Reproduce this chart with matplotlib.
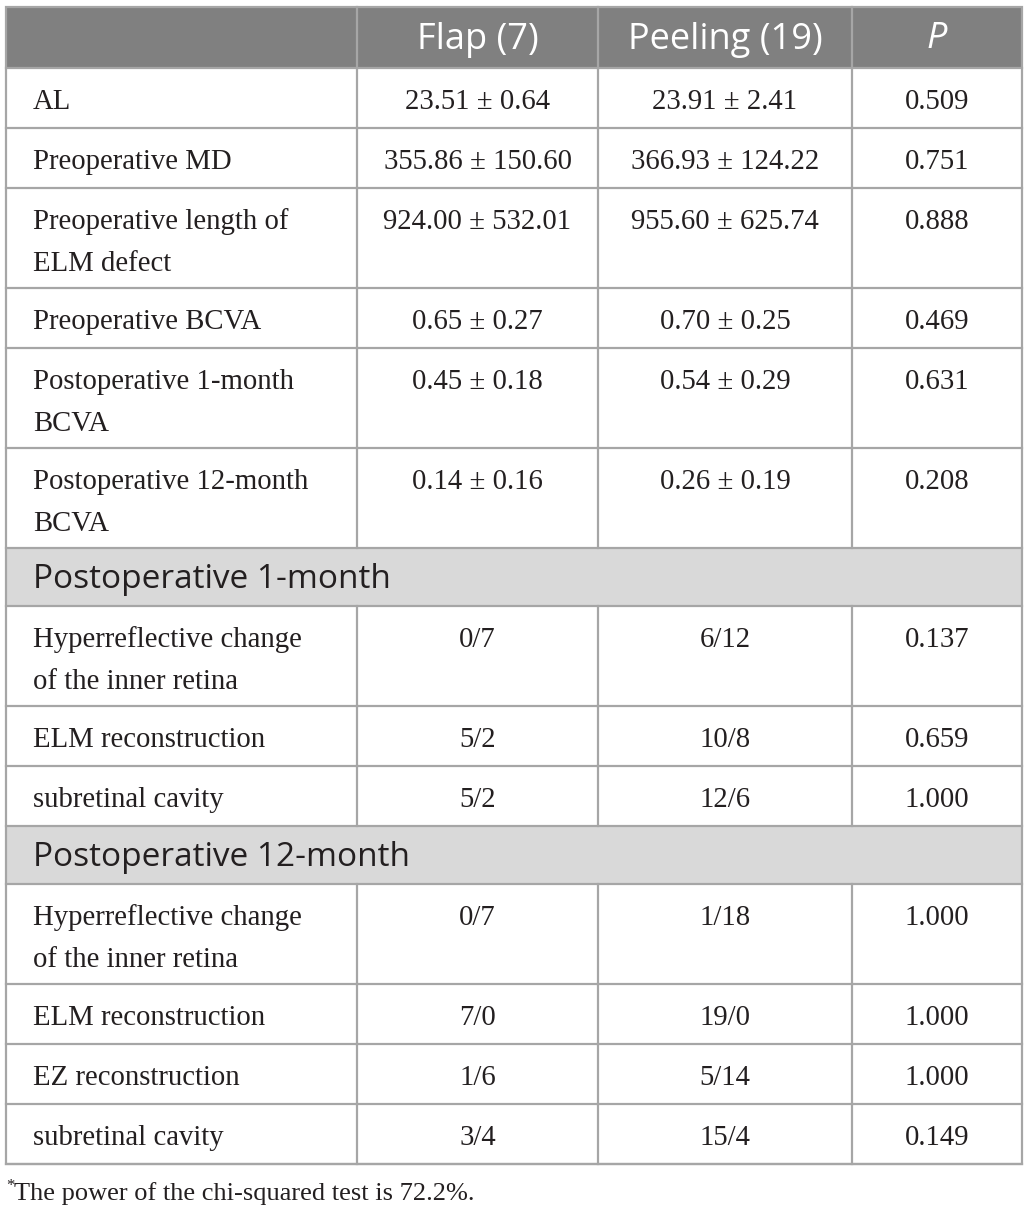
import matplotlib
matplotlib.use("Agg")
import matplotlib.pyplot as plt
from matplotlib.patches import Rectangle

# table content
col_heads = ["", "Flap (7)", "Peeling (19)", "P"]
row_labels = ["AL", "Preoperative MD", "Preoperative length of\nELM defect",
              "Preoperative BCVA", "Postoperative 1-month\nBCVA",
              "Postoperative 12-month\nBCVA",
              "Postoperative 1-month",
              "Hyperreflective change\nof the inner retina", "ELM reconstruction",
              "subretinal cavity",
              "Postoperative 12-month",
              "Hyperreflective change\nof the inner retina", "ELM reconstruction",
              "EZ reconstruction", "subretinal cavity"]
flap = ["23.51 \u00b1 0.64", "355.86 \u00b1 150.60", "924.00 \u00b1 532.01",
        "0.65 \u00b1 0.27", "0.45 \u00b1 0.18", "0.14 \u00b1 0.16", None,
        "0/7", "5/2", "5/2", None, "0/7", "7/0", "1/6", "3/4"]
peeling = ["23.91 \u00b1 2.41", "366.93 \u00b1 124.22", "955.60 \u00b1 625.74",
           "0.70 \u00b1 0.25", "0.54 \u00b1 0.29", "0.26 \u00b1 0.19", None,
           "6/12", "10/8", "12/6", None, "1/18", "19/0", "5/14", "15/4"]
pvals = ["0.509", "0.751", "0.888", "0.469", "0.631", "0.208", None,
         "0.137", "0.659", "1.000", None, "1.000", "1.000", "1.000", "0.149"]
footnote = "The power of the chi-squared test is 72.2%."

# layout (pixels)
W, H = 1030, 1217
x_edges = [6, 357, 598, 852, 1022]
top, head_h = 7, 61
line_c = "#a6a6a6"
txt_c = "#231f20"
serif = "Liberation Serif"
sans = "Open Sans"
body_fs = 20.7

fig = plt.figure(figsize=(W / 100, H / 100), dpi=100)
ax = fig.add_axes([0, 0, 1, 1])
ax.set_xlim(0, W)
ax.set_ylim(H, 0)
ax.axis("off")

# header
ax.add_patch(Rectangle((x_edges[0], top), x_edges[-1] - x_edges[0], head_h,
                       facecolor="#808080", edgecolor="none"))
for i, h in enumerate(col_heads[1:], start=1):
    xc = (x_edges[i] + x_edges[i + 1]) / 2
    ax.text(xc, top + head_h / 2 + 2, h, color="white", fontsize=26,
            family=sans, ha="center", va="center",
            style="italic" if h == "P" else "normal")
for xe in x_edges[1:-1]:
    ax.plot([xe, xe], [top, top + head_h], color=line_c, lw=1.6)

y = top + head_h
for k, lab in enumerate(row_labels):
    section = flap[k] is None
    if section:
        rh = 58
        ax.add_patch(Rectangle((x_edges[0], y), x_edges[-1] - x_edges[0], rh,
                               facecolor="#d9d9d9", edgecolor="none"))
        ax.text(33, y + rh / 2 + 2, lab, fontsize=24, family=sans,
                color=txt_c, ha="left", va="center")
    else:
        lines = lab.split("\n")
        rh = 100 if len(lines) > 1 else 60
        for n, ln in enumerate(lines):
            ax.text(33, y + 34 + n * 42, ln, fontsize=body_fs, family=serif,
                    color=txt_c, ha="left", va="center")
        for j, v in enumerate([flap[k], peeling[k], pvals[k]], start=1):
            xc = (x_edges[j] + x_edges[j + 1]) / 2
            ax.text(xc, y + 34, v, fontsize=body_fs, family=serif,
                    color=txt_c, ha="center", va="center")
        for xe in x_edges[1:-1]:
            ax.plot([xe, xe], [y, y + rh], color=line_c, lw=1.6)
    ax.plot([x_edges[0], x_edges[-1]], [y, y], color=line_c, lw=1.6)
    y += rh
ax.plot([x_edges[0], x_edges[-1]], [y, y], color=line_c, lw=1.6)
ax.add_patch(Rectangle((x_edges[0], top), x_edges[-1] - x_edges[0], y - top,
                       facecolor="none", edgecolor=line_c, lw=1.6))

# footnote
ax.text(6, y + 22, "*", fontsize=12, family=serif, color=txt_c,
        ha="left", va="center")
ax.text(14, y + 30, footnote, fontsize=19, family=serif, color=txt_c,
        ha="left", va="center")

fig.savefig("out.png", dpi=100, facecolor="white")
